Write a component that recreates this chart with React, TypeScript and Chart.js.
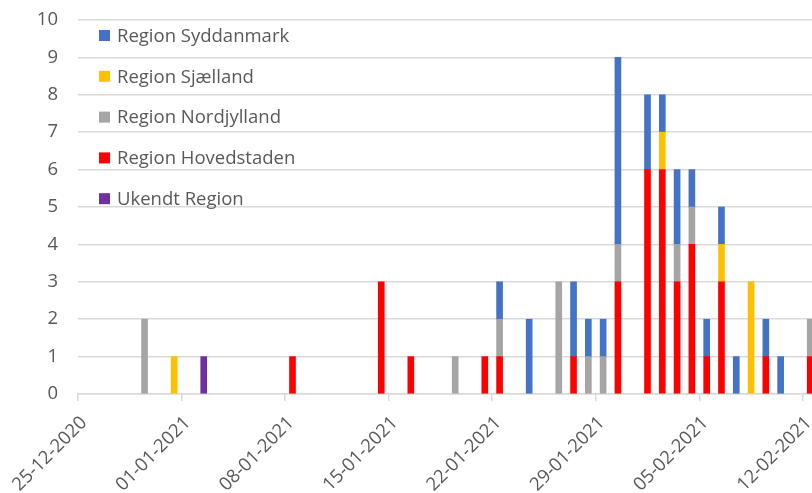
import { useEffect, useRef } from "react";
import { Chart, registerables } from "chart.js";

Chart.register(...registerables);

const days = [
  "25-12-2020", "26-12-2020", "27-12-2020", "28-12-2020", "29-12-2020", "30-12-2020", "31-12-2020",
  "01-01-2021", "02-01-2021", "03-01-2021", "04-01-2021", "05-01-2021", "06-01-2021", "07-01-2021",
  "08-01-2021", "09-01-2021", "10-01-2021", "11-01-2021", "12-01-2021", "13-01-2021", "14-01-2021",
  "15-01-2021", "16-01-2021", "17-01-2021", "18-01-2021", "19-01-2021", "20-01-2021", "21-01-2021",
  "22-01-2021", "23-01-2021", "24-01-2021", "25-01-2021", "26-01-2021", "27-01-2021", "28-01-2021",
  "29-01-2021", "30-01-2021", "31-01-2021", "01-02-2021", "02-02-2021", "03-02-2021", "04-02-2021",
  "05-02-2021", "06-02-2021", "07-02-2021", "08-02-2021", "09-02-2021", "10-02-2021", "11-02-2021",
  "12-02-2021",
];

const tickLabels = [
  "25-12-2020", "01-01-2021", "08-01-2021", "15-01-2021",
  "22-01-2021", "29-01-2021", "05-02-2021", "12-02-2021",
];

const ukendt = [
  0, 0, 0, 0, 0, 0, 0, 0, 1, 0,
  0, 0, 0, 0, 0, 0, 0, 0, 0, 0,
  0, 0, 0, 0, 0, 0, 0, 0, 0, 0,
  0, 0, 0, 0, 0, 0, 0, 0, 0, 0,
  0, 0, 0, 0, 0, 0, 0, 0, 0, 0,
];
const hovedstaden = [
  0, 0, 0, 0, 0, 0, 0, 0, 0, 0,
  0, 0, 0, 0, 1, 0, 0, 0, 0, 0,
  3, 0, 1, 0, 0, 0, 0, 1, 1, 0,
  0, 0, 0, 1, 0, 0, 3, 0, 6, 6,
  3, 4, 1, 3, 0, 0, 1, 0, 0, 1,
];
const nordjylland = [
  0, 0, 0, 0, 2, 0, 0, 0, 0, 0,
  0, 0, 0, 0, 0, 0, 0, 0, 0, 0,
  0, 0, 0, 0, 0, 1, 0, 0, 1, 0,
  0, 0, 3, 0, 1, 1, 1, 0, 0, 0,
  1, 1, 0, 0, 0, 0, 0, 0, 0, 1,
];
const sjaelland = [
  0, 0, 0, 0, 0, 0, 1, 0, 0, 0,
  0, 0, 0, 0, 0, 0, 0, 0, 0, 0,
  0, 0, 0, 0, 0, 0, 0, 0, 0, 0,
  0, 0, 0, 0, 0, 0, 0, 0, 0, 1,
  0, 0, 0, 1, 0, 3, 0, 0, 0, 0,
];
const syddanmark = [
  0, 0, 0, 0, 0, 0, 0, 0, 0, 0,
  0, 0, 0, 0, 0, 0, 0, 0, 0, 0,
  0, 0, 0, 0, 0, 0, 0, 0, 1, 0,
  2, 0, 0, 2, 1, 1, 5, 0, 2, 1,
  2, 1, 1, 1, 1, 0, 1, 1, 0, 0,
];

const seriesNames = [
  "Ukendt Region",
  "Region Hovedstaden",
  "Region Nordjylland",
  "Region Sjælland",
  "Region Syddanmark",
];
const seriesValues = [ukendt, hovedstaden, nordjylland, sjaelland, syddanmark];
const seriesColors = ["#7030A0", "#FF0000", "#A5A5A5", "#FFC000", "#4472C4"];

const FONT = '"Open Sans", "Noto Sans", sans-serif';
const TEXT = "#595959";
const GRID = "#d9d9d9";

const insideLegend = {
  id: "insideLegend",
  afterDraw(chart: any) {
    const { ctx, chartArea } = chart;
    const ds = chart.data.datasets.slice().reverse();
    ctx.save();
    ctx.font = `18.5px ${FONT}`;
    ctx.textBaseline = "middle";
    ctx.textAlign = "left";
    ds.forEach((d: any, i: number) => {
      const x = chartArea.left + 21;
      const y = chartArea.top + 15.5 + i * 40.8;
      ctx.fillStyle = d.backgroundColor;
      ctx.fillRect(x, y - 5.5, 11, 11);
      ctx.fillStyle = TEXT;
      ctx.fillText(d.label, x + 18, y + 1);
    });
    ctx.restore();
  },
};

export default function App() {
  const ref = useRef<HTMLCanvasElement | null>(null);

  useEffect(() => {
    if (!ref.current) return;
    const chart = new Chart(ref.current, {
      type: "bar",
      data: {
        datasets: seriesNames.map((name, s) => ({
          label: name,
          data: seriesValues[s].map((v, i) => ({ x: i + 0.5, y: v === 0 ? null : v, d: days[i] })),
          backgroundColor: seriesColors[s],
          borderWidth: 0,
          barThickness: 6,
        })),
      },
      options: {
        responsive: false,
        animation: false,
        layout: { padding: { left: 0, right: 0, top: 20, bottom: 0 } },
        plugins: {
          legend: { display: false },
          tooltip: { enabled: false },
        },
        scales: {
          x: {
            type: "linear",
            stacked: true,
            offset: false,
            min: 0,
            max: 49.62,
            afterFit(scale: any) {
              scale.height = 99;
              scale.paddingRight = 0;
              scale.paddingLeft = 0;
            },
            ticks: {
              stepSize: 7,
              includeBounds: false,
              autoSkip: false,
              maxRotation: 45,
              minRotation: 45,
              padding: 11,
              labelOffset: 6,
              color: TEXT,
              font: { family: FONT, size: 18.5 },
              callback: (value: any) => tickLabels[Math.round(Number(value) / 7)] ?? "",
            },
            grid: {
              offset: false,
              drawOnChartArea: false,
              drawTicks: true,
              tickLength: 7,
              color: GRID,
              lineWidth: 1.5,
            },
            border: { display: true, color: GRID, width: 1.5 },
          },
          y: {
            stacked: true,
            min: 0,
            max: 10,
            afterFit(scale: any) {
              scale.width = 78;
              scale.paddingTop = 0;
              scale.paddingBottom = 0;
            },
            ticks: {
              stepSize: 1,
              padding: 20,
              color: TEXT,
              font: { family: FONT, size: 18.5 },
            },
            grid: {
              drawTicks: false,
              color: GRID,
              lineWidth: 1.5,
            },
            border: { display: false },
          },
        },
      },
      plugins: [insideLegend],
    });
    return () => chart.destroy();
  }, []);

  return (
    <div style={{ position: "absolute", left: 0, top: 0, width: 812, height: 493, background: "#fff" }}>
      <canvas ref={ref} width={812} height={493} style={{ display: "block" }} />
    </div>
  );
}
